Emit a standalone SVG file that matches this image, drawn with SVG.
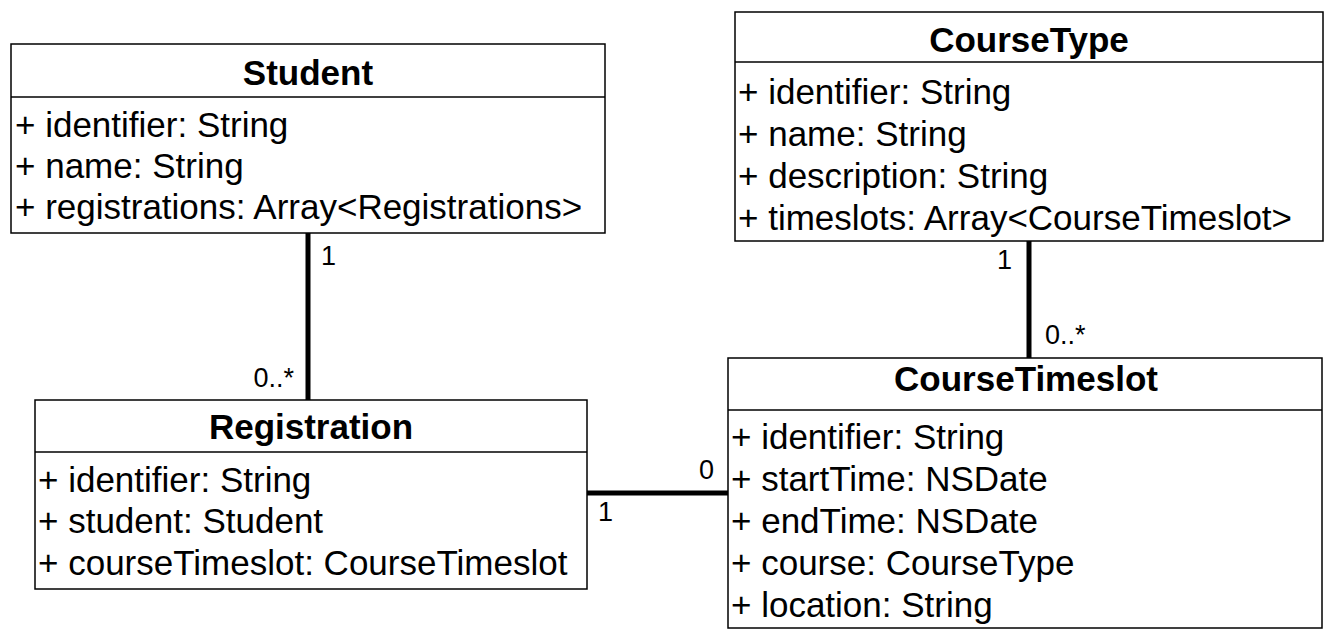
<svg xmlns="http://www.w3.org/2000/svg" width="1338" height="641" viewBox="0 0 1338 641">
<style>
.box{fill:#fff;stroke:#000;stroke-width:1.5}
.div{stroke:#000;stroke-width:1.5}
.title{font-family:"Liberation Sans",Arial,sans-serif;font-weight:bold;font-size:35px;text-anchor:middle;fill:#000}
.attr{font-family:"Liberation Sans",Arial,sans-serif;font-size:35px;fill:#000}
.lbl{font-family:"Liberation Sans",Arial,sans-serif;font-size:27px;fill:#000}
.conn{stroke:#000;stroke-width:5;stroke-linecap:round;fill:none}
</style>
<rect width="1338" height="641" fill="#fff"/>
<g id="connectors">
<line class="conn" x1="308" y1="233" x2="308" y2="400"/>
<line class="conn" x1="1029" y1="241" x2="1029" y2="358"/>
<line class="conn" x1="587" y1="493" x2="728" y2="493"/>
<text class="lbl" x="321" y="265">1</text>
<text class="lbl" x="294" y="387" text-anchor="end">0..*</text>
<text class="lbl" x="1012" y="269" text-anchor="end">1</text>
<text class="lbl" x="1045" y="344">0..*</text>
<text class="lbl" x="714" y="479" text-anchor="end">0</text>
<text class="lbl" x="598" y="521">1</text>
</g>
<g id="Student">
<rect class="box" x="11" y="44" width="594" height="189"/>
<line class="div" x1="11" y1="97" x2="605" y2="97"/>
<text class="title" x="308" y="85">Student</text>
<text class="attr" x="15" y="137">+ identifier: String</text>
<text class="attr" x="15" y="178">+ name: String</text>
<text class="attr" x="15" y="219">+ registrations: Array&lt;Registrations&gt;</text>
</g>
<g id="CourseType">
<rect class="box" x="735" y="12" width="588" height="229"/>
<line class="div" x1="735" y1="62" x2="1323" y2="62"/>
<text class="title" x="1029" y="52">CourseType</text>
<text class="attr" x="738" y="104">+ identifier: String</text>
<text class="attr" x="738" y="146">+ name: String</text>
<text class="attr" x="738" y="188">+ description: String</text>
<text class="attr" x="738" y="230">+ timeslots: Array&lt;CourseTimeslot&gt;</text>
</g>
<g id="Registration">
<rect class="box" x="35" y="400" width="552" height="189"/>
<line class="div" x1="35" y1="452" x2="587" y2="452"/>
<text class="title" x="311" y="439">Registration</text>
<text class="attr" x="38" y="492">+ identifier: String</text>
<text class="attr" x="38" y="533">+ student: Student</text>
<text class="attr" x="38" y="575">+ courseTimeslot: CourseTimeslot</text>
</g>
<g id="CourseTimeslot">
<rect class="box" x="728" y="358" width="594" height="270"/>
<line class="div" x1="728" y1="410" x2="1322" y2="410"/>
<text class="title" x="1026" y="391">CourseTimeslot</text>
<text class="attr" x="731" y="449">+ identifier: String</text>
<text class="attr" x="731" y="491">+ startTime: NSDate</text>
<text class="attr" x="731" y="533">+ endTime: NSDate</text>
<text class="attr" x="731" y="575">+ course: CourseType</text>
<text class="attr" x="731" y="617">+ location: String</text>
</g>
</svg>
